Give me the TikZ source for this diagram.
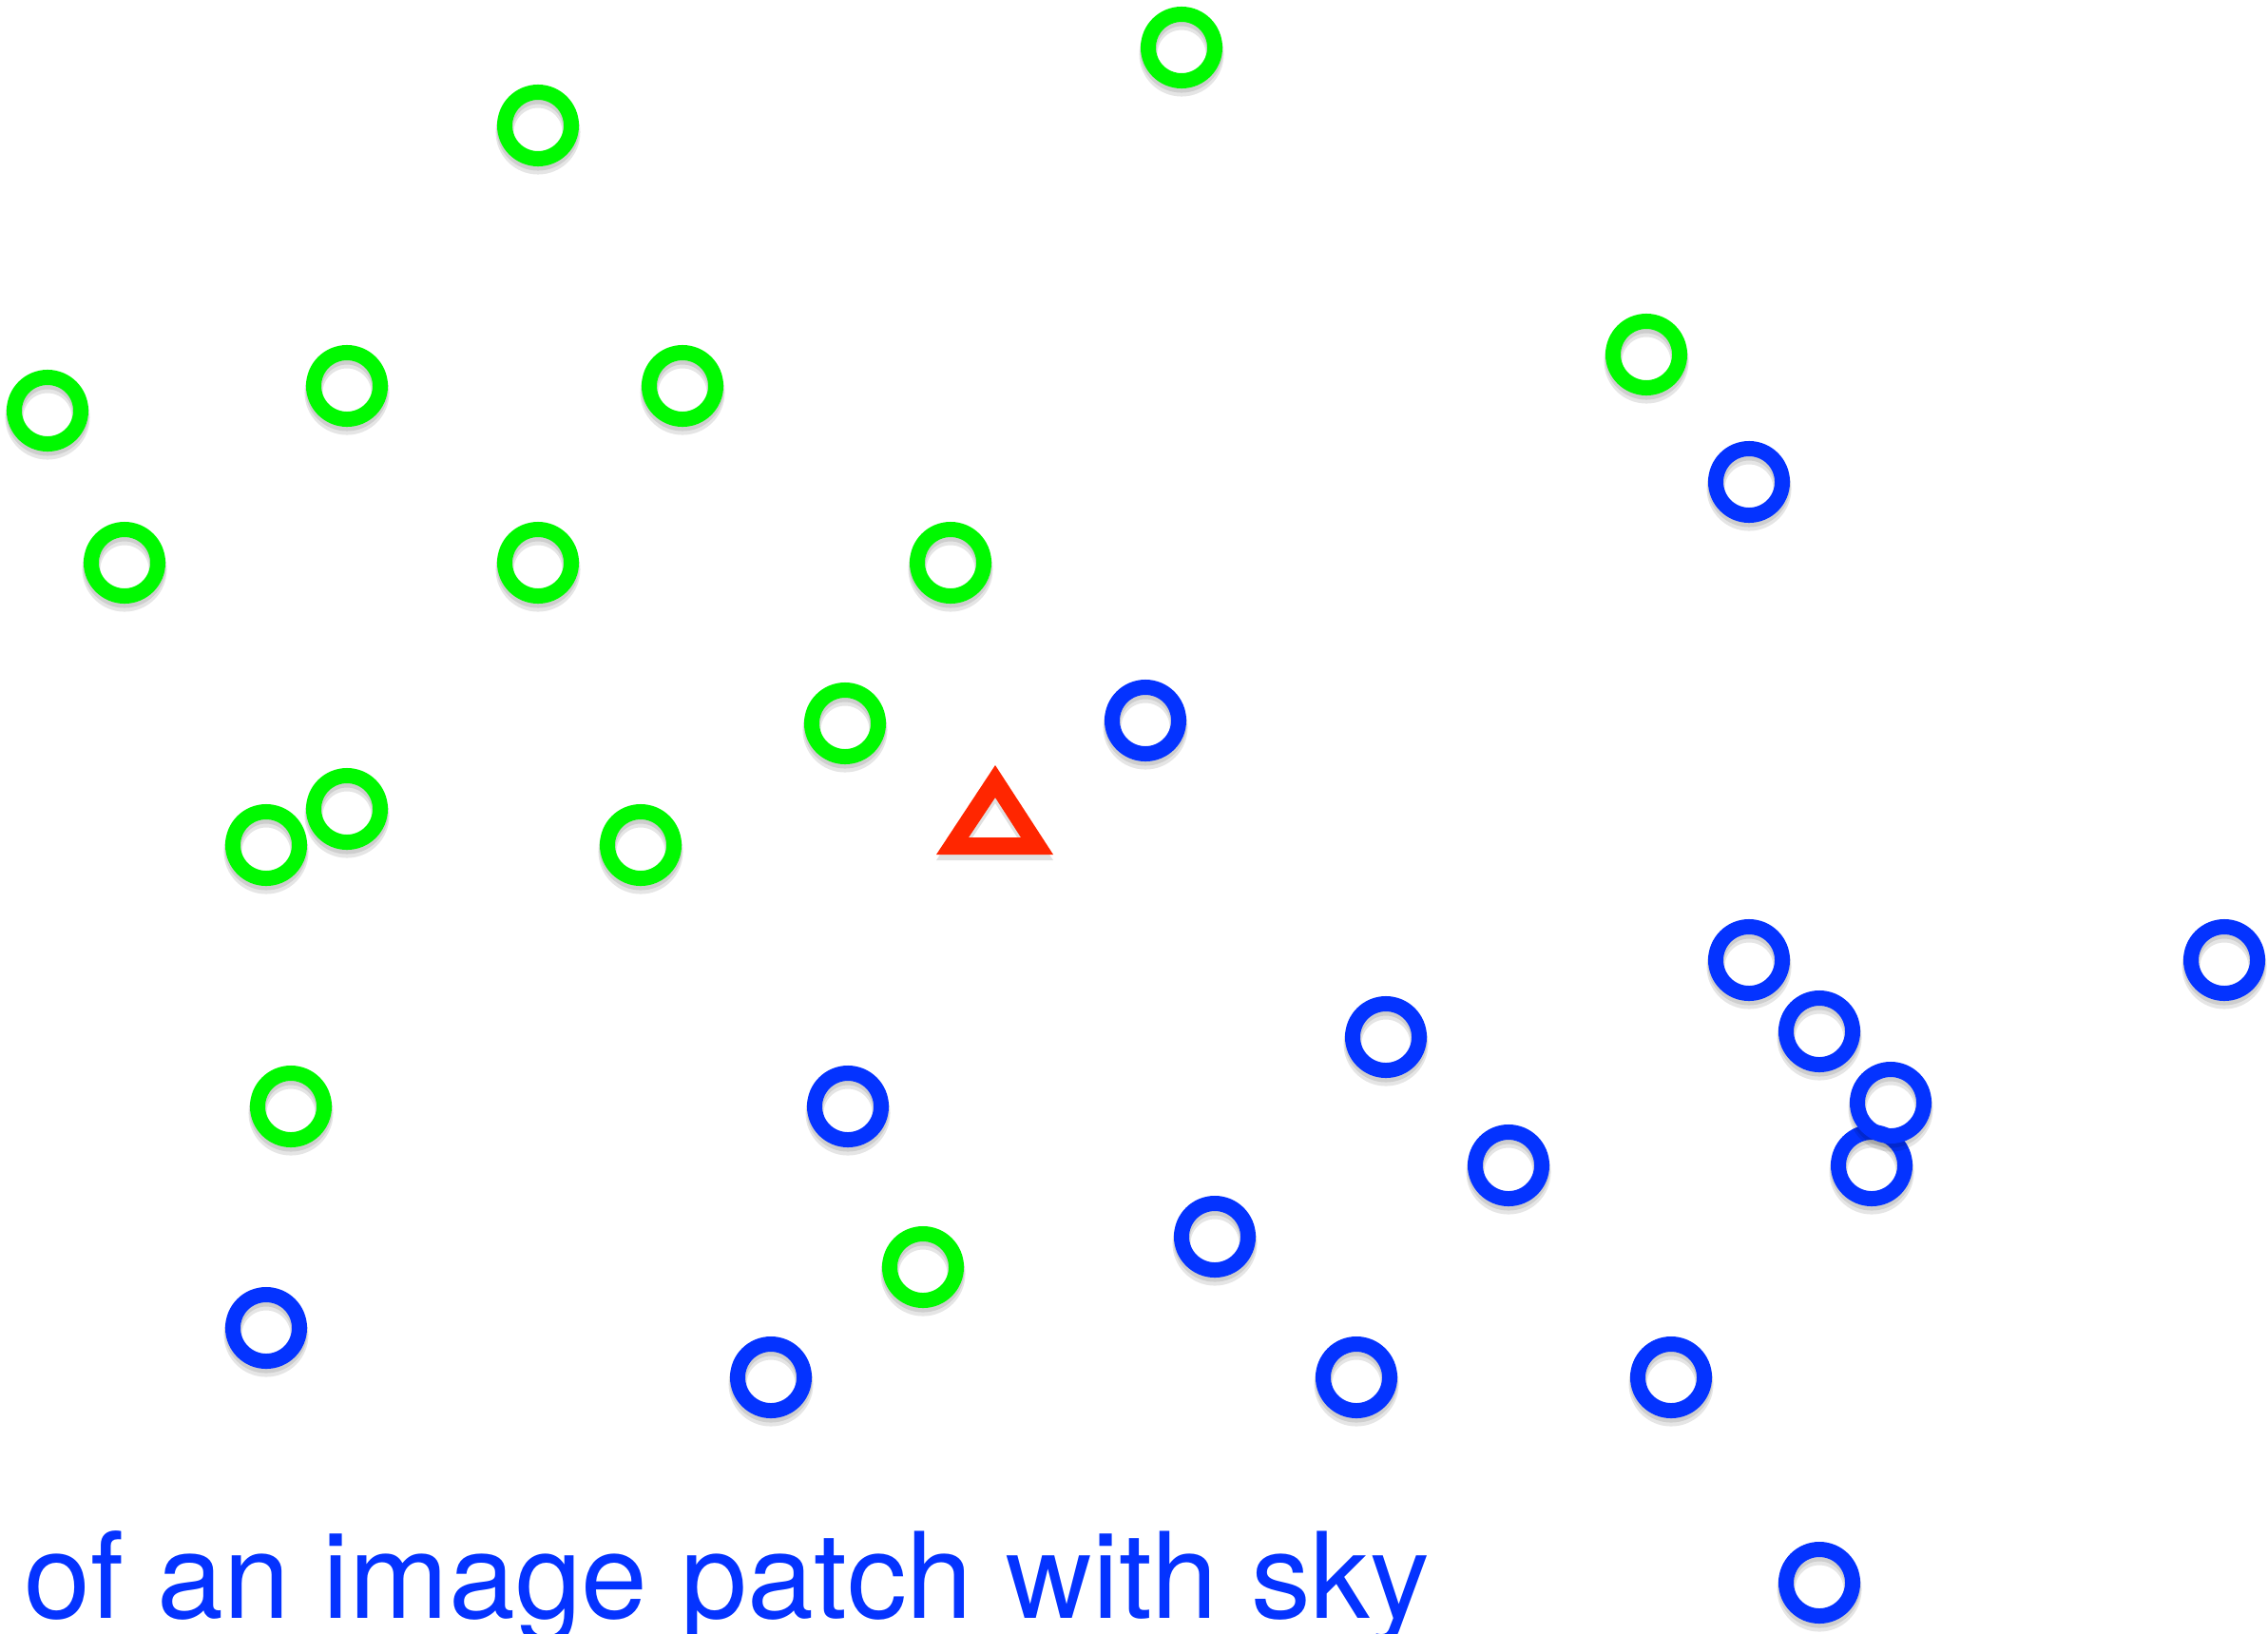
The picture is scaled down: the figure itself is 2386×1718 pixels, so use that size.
\documentclass[tikz,border=0pt]{standalone}
\usepackage{fontspec}
\setmainfont{TeX Gyre Heros}
\usetikzlibrary{positioning}
\definecolor{dotgreen}{RGB}{0,249,0}
\definecolor{dotblue}{RGB}{4,51,255}
\definecolor{markred}{RGB}{255,38,0}

\begin{document}
\begin{tikzpicture}[x=0.01cm, y=-0.01cm]
  % Styles
  \tikzset{
    dot/.style={circle, inner sep=0pt, minimum size=0.7cm, line width=0.16cm,
      preaction={draw=black, opacity=0.10, line width=0.19cm, transform canvas={yshift=-0.07cm}},
      preaction={draw=black, opacity=0.10, line width=0.17cm, transform canvas={yshift=-0.04cm}}},
    gdot/.style={dot, draw=dotgreen},
    bdot/.style={dot, draw=dotblue},
    caption/.style={anchor=base west, inner sep=0pt, text=dotblue, font=\fontsize{35.7}{40}\selectfont}
  }
  \useasboundingbox (0,0) rectangle (2386,1718);

  % Green dots
  \node[gdot] (g1) at (1243,50) {};
  \node[gdot] (g2) at (566,132) {};
  \node[gdot] (g3) at (1732,373) {};
  \node[gdot] (g4) at (50,432) {};
  \node[gdot] (g5) at (365,406) {};
  \node[gdot] (g6) at (718,406) {};
  \node[gdot] (g7) at (131,592) {};
  \node[gdot] (g8) at (566,592) {};
  \node[gdot] (g9) at (1000,592) {};
  \node[gdot] (g10) at (889,761) {};
  \node[gdot] (g12) at (280,889) {};
  \node[gdot] (g11) at (365,851) {};
  \node[gdot] (g13) at (674,889) {};
  \node[gdot] (g14) at (306,1164) {};
  \node[gdot] (g15) at (971,1333) {};

  % Blue dots
  \node[bdot] (b1) at (1840,507) {};
  \node[bdot] (b2) at (1205,758) {};
  \node[bdot] (b3) at (1840,1010) {};
  \node[bdot] (b4) at (2340,1010) {};
  \node[bdot] (b5) at (1458,1091) {};
  \node[bdot] (b6) at (1914,1085) {};
  \node[bdot] (b7) at (892,1164) {};
  \node[bdot] (b10) at (1969,1226) {};
  \node[bdot] (b8) at (1989,1160) {};
  \node[bdot] (b9) at (1587,1226) {};
  \node[bdot] (b11) at (1278,1301) {};
  \node[bdot] (b12) at (280,1397) {};
  \node[bdot] (b13) at (811,1449) {};
  \node[bdot] (b14) at (1427,1449) {};
  \node[bdot] (b15) at (1758,1449) {};
  \node[bdot] (b16) at (1914,1665) {};

  % Query point
  \fill[black, opacity=0.12, even odd rule, transform canvas={yshift=-0.06cm}]
    (985,899) -- (1047,805) -- (1108,899) -- cycle
    (1019,881) -- (1047,839) -- (1074,881) -- cycle;
  \fill[markred, even odd rule]
    (985,899) -- (1047,805) -- (1108,899) -- cycle
    (1019,881) -- (1047,839) -- (1074,881) -- cycle;
  \coordinate (query) at (1047,865);

  % Caption
  \node[caption] (cap) at (25,1702) {of an image patch with sky};
\end{tikzpicture}
\end{document}
